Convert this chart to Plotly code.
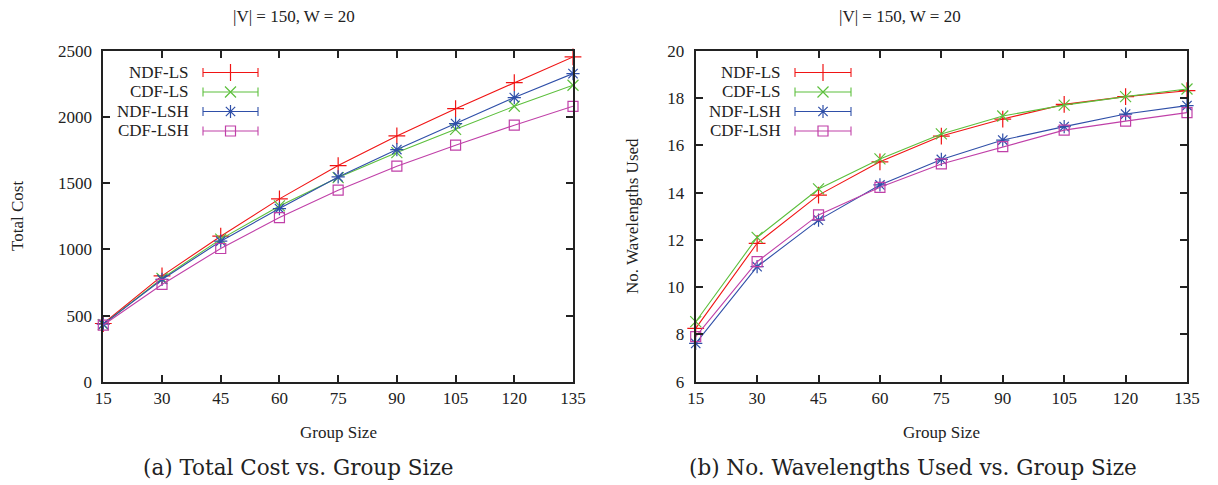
import plotly.graph_objects as go

# page body adds an 8px margin, so the figure is drawn 8px in from the window edge
OFF = 8
W, H = 1218 - OFF, 485 - OFF

group_size = [15, 30, 45, 60, 75, 90, 105, 120, 135]
series_names = ["NDF-LS", "CDF-LS", "NDF-LSH", "CDF-LSH"]

cost_ndf_ls = [440, 800, 1100, 1382, 1634, 1858, 2064, 2261, 2455]
cost_cdf_ls = [432, 780, 1078, 1329, 1543, 1732, 1908, 2082, 2241]
cost_ndf_lsh = [435, 773, 1062, 1309, 1548, 1755, 1951, 2148, 2329]
cost_cdf_lsh = [428, 735, 1007, 1241, 1448, 1629, 1788, 1939, 2082]

wl_ndf_ls = [8.26, 11.86, 13.90, 15.31, 16.40, 17.12, 17.74, 18.07, 18.32]
wl_cdf_ls = [8.54, 12.11, 14.16, 15.43, 16.49, 17.25, 17.71, 18.07, 18.39]
wl_ndf_lsh = [7.62, 10.87, 12.84, 14.33, 15.41, 16.23, 16.80, 17.33, 17.69]
wl_cdf_lsh = [7.91, 11.08, 13.06, 14.23, 15.22, 15.95, 16.65, 17.03, 17.39]

colors = ["#f01414", "#5cbf3c", "#2f4fa8", "#c040a8"]
symbols = ["cross-thin-open", "x-thin-open", "asterisk-open", "square-open"]
msizes = [12, 11, 11, 10]

FONT = "Liberation Serif"
CAPFONT = "DejaVu Serif"
fs = 17

fig = go.Figure()

cost_series = [cost_ndf_ls, cost_cdf_ls, cost_ndf_lsh, cost_cdf_lsh]
wl_series = [wl_ndf_ls, wl_cdf_ls, wl_ndf_lsh, wl_cdf_lsh]


def mk(i):
    return dict(symbol=symbols[i], size=msizes[i], color=colors[i],
                line=dict(color=colors[i], width=1.2))


for i, name in enumerate(series_names):
    fig.add_trace(go.Scatter(
        x=group_size, y=cost_series[i], mode="lines+markers", name=name,
        line=dict(color=colors[i], width=1.1), marker=mk(i),
        xaxis="x", yaxis="y", showlegend=False, cliponaxis=False))
for i, name in enumerate(series_names):
    fig.add_trace(go.Scatter(
        x=group_size, y=wl_series[i], mode="lines+markers", name=name,
        line=dict(color=colors[i], width=1.1), marker=mk(i),
        xaxis="x2", yaxis="y2", showlegend=False, cliponaxis=False))


# positions below are given in window pixels and converted to figure fractions
def px(x):
    return (x - OFF) / W


def py(y):
    return 1 - (y - OFF) / H


# manual gnuplot-style legend
legend_rows = [72.5, 92, 111.5, 131]
legend_cfg = [(191, 203, 258, 230.5), (783, 795, 851, 823)]
shapes = []
annotations = []
for (tx, l0, l1, mx) in legend_cfg:
    for i, name in enumerate(series_names):
        yy = legend_rows[i]
        annotations.append(dict(x=px(tx), y=py(yy), xref="paper", yref="paper", text=name,
                                showarrow=False, xanchor="right", yanchor="middle",
                                font=dict(family=FONT, size=fs, color="#222")))
        shapes.append(dict(type="line", xref="paper", yref="paper", x0=px(l0), x1=px(l1),
                           y0=py(yy), y1=py(yy), line=dict(color=colors[i], width=1.1)))
        for ex in (l0, l1):
            shapes.append(dict(type="line", xref="paper", yref="paper", x0=px(ex), x1=px(ex),
                               y0=py(yy - 4.5), y1=py(yy + 4.5),
                               line=dict(color=colors[i], width=1.1)))
        fig.add_trace(go.Scatter(x=[mx - OFF], y=[yy - OFF], mode="markers", xaxis="x3", yaxis="y3",
                                 marker=mk(i), showlegend=False, hoverinfo="skip",
                                 cliponaxis=False))

texts = [
    (294, 17, "|V| = 150, W = 20", 0, fs, FONT),
    (900, 17, "|V| = 150, W = 20", 0, fs, FONT),
    (338, 432, "Group Size", 0, fs, FONT),
    (941, 432, "Group Size", 0, fs, FONT),
    (17, 216, "Total Cost", -90, fs, FONT),
    (632, 216, "No. Wavelengths Used", -90, fs, FONT),
    (298, 467, "(a) Total Cost vs. Group Size", 0, 21.5, CAPFONT),
    (913, 467, "(b) No. Wavelengths Used vs. Group Size", 0, 21.5, CAPFONT),
]
for (x, y, t, ang, s, f) in texts:
    annotations.append(dict(x=px(x), y=py(y), xref="paper", yref="paper", text=t, showarrow=False,
                            xanchor="center", yanchor="middle", textangle=ang,
                            font=dict(family=f, size=s, color="#222")))

xl = (px(103.3), px(573))
xr = (px(695.7), px(1187))
yd = (py(381.7), py(51))

axis_common = dict(showline=True, linecolor="#222", linewidth=2, mirror="ticks",
                   ticks="inside", ticklen=7, tickwidth=1.5, tickcolor="#222",
                   showgrid=False, zeroline=False, automargin=False,
                   tickfont=dict(family=FONT, size=fs, color="#222"))

fig.update_layout(
    template="none",
    width=W, height=H, margin=dict(l=0, r=0, t=0, b=0, pad=0), autosize=False,
    plot_bgcolor="rgba(0,0,0,0)", paper_bgcolor="white",
    font=dict(family=FONT, size=fs, color="#222"),
    xaxis=dict(domain=xl, anchor="y", range=[15, 135], tickvals=group_size, **axis_common),
    yaxis=dict(domain=yd, anchor="x", range=[0, 2500], dtick=500, ticklabelstandoff=6, **axis_common),
    xaxis2=dict(domain=xr, anchor="y2", range=[15, 135], tickvals=group_size, **axis_common),
    yaxis2=dict(domain=yd, anchor="x2", range=[6, 20], dtick=2, ticklabelstandoff=6, **axis_common),
    xaxis3=dict(domain=[0, 1], anchor="y3", range=[0, W], visible=False, fixedrange=True,
                automargin=False),
    yaxis3=dict(domain=[0, 1], anchor="x3", range=[H, 0], visible=False, fixedrange=True,
                automargin=False),
    shapes=shapes, annotations=annotations, showlegend=False,
)

fig.write_html("out.html")
